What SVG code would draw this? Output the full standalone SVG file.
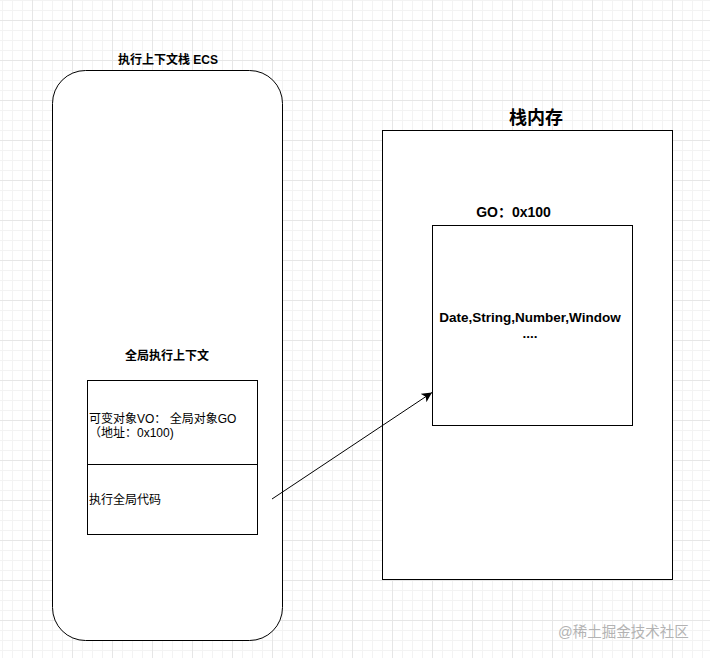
<svg xmlns="http://www.w3.org/2000/svg" width="710" height="658" viewBox="0 0 710 658">
  <defs>
    <pattern id="minor" patternUnits="userSpaceOnUse" x="2" y="0" width="10" height="10">
      <path d="M0.5 0V10M0 0.5H10" stroke="#f3f3f3" stroke-width="1" fill="none"/>
    </pattern>
    <pattern id="major" patternUnits="userSpaceOnUse" x="32" y="20" width="40" height="40">
      <path d="M0.5 0V40M0 0.5H40" stroke="#e6e6e6" stroke-width="1" fill="none"/>
    </pattern>
    <marker id="arrow" markerUnits="userSpaceOnUse" markerWidth="12" markerHeight="10" refX="10" refY="5" orient="auto">
      <path d="M0 0L10 5L0 10L2.5 5Z" fill="#000"/>
    </marker>
    <style>
      .shape { fill: #fff; stroke: #000; stroke-width: 1; }
      .t { font-family: "Liberation Sans", "Noto Sans CJK SC", sans-serif; fill: #000; }
      .b { font-weight: bold; }
      .s12 { font-size: 12px; }
      .mid { text-anchor: middle; }
      .edge { stroke: #000; stroke-width: 1; fill: none; }
    </style>
  </defs>
  <rect width="710" height="658" fill="#fff"/>
  <rect width="710" height="658" fill="url(#minor)"/>
  <rect width="710" height="658" fill="url(#major)"/>

  <g id="ecs">
    <rect class="shape" x="52.5" y="70.5" width="230" height="570" rx="33" ry="33"/>
    <text class="t b s12 mid" x="168" y="64">执行上下文栈 ECS</text>
  </g>

  <g id="global-context">
    <text class="t b s12 mid" x="167" y="360">全局执行上下文</text>
    <rect class="shape" x="87.5" y="380.5" width="170" height="84"/>
    <text class="t s12" x="89" y="423">可变对象VO： 全局对象GO</text>
    <text class="t s12" x="89" y="437">（地址：0x100)</text>
  </g>

  <g id="global-code">
    <rect class="shape" x="87.5" y="464.5" width="170" height="70"/>
    <text class="t s12" x="89" y="504">执行全局代码</text>
  </g>

  <g id="stack-memory">
    <rect class="shape" x="382.5" y="130.5" width="290" height="449"/>
    <text class="t b mid" x="536" y="124" font-size="18px">栈内存</text>
  </g>

  <g id="go">
    <text class="t b mid" x="513.5" y="217" font-size="14px">GO：0x100</text>
    <rect class="shape" x="432.5" y="225.5" width="200" height="200"/>
    <text class="t b mid" x="530" y="322" font-size="13.5px">Date,String,Number,Window</text>
    <text class="t b mid" x="530" y="338" font-size="13.5px">....</text>
  </g>

  <g id="connectors">
    <line class="edge" x1="272" y1="499" x2="432" y2="392.5" marker-end="url(#arrow)"/>
  </g>

  <text class="t" x="558" y="637" font-size="14.5px" style="fill:#b3b3b3">@稀土掘金技术社区</text>
</svg>
